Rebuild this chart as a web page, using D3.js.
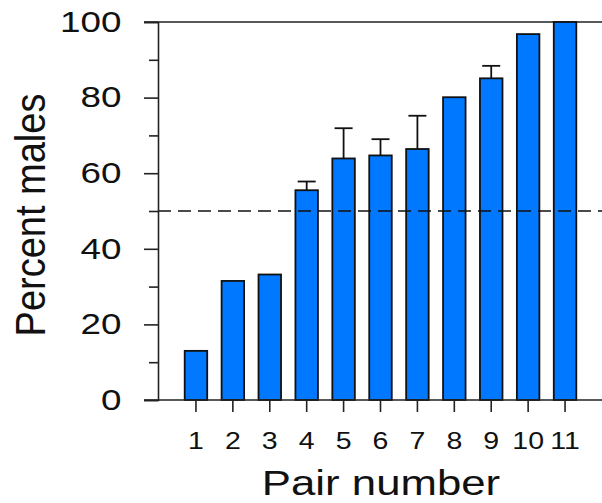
<!DOCTYPE html>
<html>
<head>
<meta charset="utf-8">
<script src="https://cdn.jsdelivr.net/npm/d3@7"></script>
<style>
  body { margin: 0; background: #fff; }
  text { font-family: Arial, "Liberation Sans", sans-serif; fill: #111; }
</style>
</head>
<body>
<div id="chart"></div>
<script>
// data
var pairs = ["1", "2", "3", "4", "5", "6", "7", "8", "9", "10", "11"]
var percentMales = [13, 31.5, 33.2, 55.5, 63.9, 64.7, 66.4, 80.1, 85.1, 96.8, 100]
var errorUp = [0, 0, 0, 2.3, 8, 4.3, 8.8, 0, 3.3, 0, 0]
var yTicks = [0, 20, 40, 60, 80, 100]
var yMinor = [10, 30, 50, 70, 90]
var refLine = 50

var width = 602, height = 503
var barColor = '#0078ff'
var stretch = 1.27 // the original figure is stretched sideways

var svg = d3.select("#chart").append("svg")
  .attr("width", width)
  .attr("height", height)

var y = d3.scaleLinear().domain([0, 100]).range([400, 22])

var x = d3.scaleBand()
  .domain(pairs)
  .range([177.5, 583.5])
  .paddingInner(0.39)
  .paddingOuter(0.195)

var axisX = 158

// top frame line
svg.append("line")
  .attr("x1", 144).attr("x2", width)
  .attr("y1", y(100)).attr("y2", y(100))
  .attr("stroke", "#222").attr("stroke-width", 1.6)

// bars
svg.selectAll("rect.bar")
  .data(percentMales)
  .enter()
  .append("rect")
  .attr("class", "bar")
  .attr("x", function(d, i) { return x(pairs[i]) })
  .attr("y", function(d) { return y(d) })
  .attr("width", x.bandwidth())
  .attr("height", function(d) { return y(0) - y(d) })
  .style("fill", barColor)
  .style("stroke", "#111")
  .style("stroke-width", 1.8)

// error bars (upper only)
var errs = svg.selectAll("g.err")
  .data(percentMales.map(function(d, i) { return {i: i, v: d, e: errorUp[i]} }).filter(function(d) { return d.e > 0 }))
  .enter()
  .append("g")
  .attr("class", "err")

errs.append("line")
  .attr("x1", function(d) { return x(pairs[d.i]) + x.bandwidth() / 2 })
  .attr("x2", function(d) { return x(pairs[d.i]) + x.bandwidth() / 2 })
  .attr("y1", function(d) { return y(d.v) })
  .attr("y2", function(d) { return y(d.v + d.e) })
  .attr("stroke", "#111").attr("stroke-width", 1.8)

errs.append("line")
  .attr("x1", function(d) { return x(pairs[d.i]) + x.bandwidth() / 2 - 9 })
  .attr("x2", function(d) { return x(pairs[d.i]) + x.bandwidth() / 2 + 9 })
  .attr("y1", function(d) { return y(d.v + d.e) })
  .attr("y2", function(d) { return y(d.v + d.e) })
  .attr("stroke", "#111").attr("stroke-width", 1.8)

// 50% reference line
svg.append("line")
  .attr("x1", axisX).attr("x2", width)
  .attr("y1", y(refLine)).attr("y2", y(refLine))
  .attr("stroke", "#111").attr("stroke-width", 1.4)
  .attr("stroke-dasharray", "13,7")

// y axis
var yAxis = svg.append("g")
  .attr("transform", "translate(" + axisX + ",0)")
  .call(d3.axisLeft(y).tickValues(yTicks).tickSize(14).tickFormat(d3.format("d")))
yAxis.select(".domain").attr("stroke", "#222").attr("stroke-width", 1.6)
yAxis.selectAll(".tick line").attr("stroke", "#222").attr("stroke-width", 1.6)
yAxis.selectAll(".tick text")
  .attr("x", -36.5 / stretch)
  .attr("transform", "scale(" + stretch + ",1)")
  .style("font-size", "29px")
  .style("font-family", "Arial, 'Liberation Sans', sans-serif")
  .attr("fill", "#111")

svg.append("g")
  .attr("transform", "translate(" + axisX + ",0)")
  .call(d3.axisLeft(y).tickValues(yMinor).tickSize(9).tickFormat(""))
  .call(function(g) { g.select(".domain").remove() })
  .selectAll(".tick line").attr("stroke", "#222").attr("stroke-width", 1.6)

// x axis
svg.append("line")
  .attr("x1", 144).attr("x2", width)
  .attr("y1", y(0)).attr("y2", y(0))
  .attr("stroke", "#222").attr("stroke-width", 1.6)

var xAxis = svg.append("g")
  .attr("transform", "translate(0," + y(0) + ")")
  .call(d3.axisBottom(x).tickSize(12).tickPadding(21))
xAxis.select(".domain").remove()
xAxis.selectAll(".tick line").attr("stroke", "#222").attr("stroke-width", 1.6)
xAxis.selectAll(".tick text")
  .attr("transform", "scale(1.24,1)")
  .style("font-size", "23px")
  .style("font-family", "Arial, 'Liberation Sans', sans-serif")
  .attr("fill", "#111")

// axis titles
svg.append("text")
  .attr("transform", "translate(381,495) scale(1.25,1)")
  .attr("text-anchor", "middle")
  .style("font-size", "35px")
  .text("Pair number")

svg.append("text")
  .attr("transform", "translate(45,215) scale(1.14,1) rotate(-90)")
  .attr("text-anchor", "middle")
  .style("font-size", "38px")
  .text("Percent males")
</script>
</body>
</html>
